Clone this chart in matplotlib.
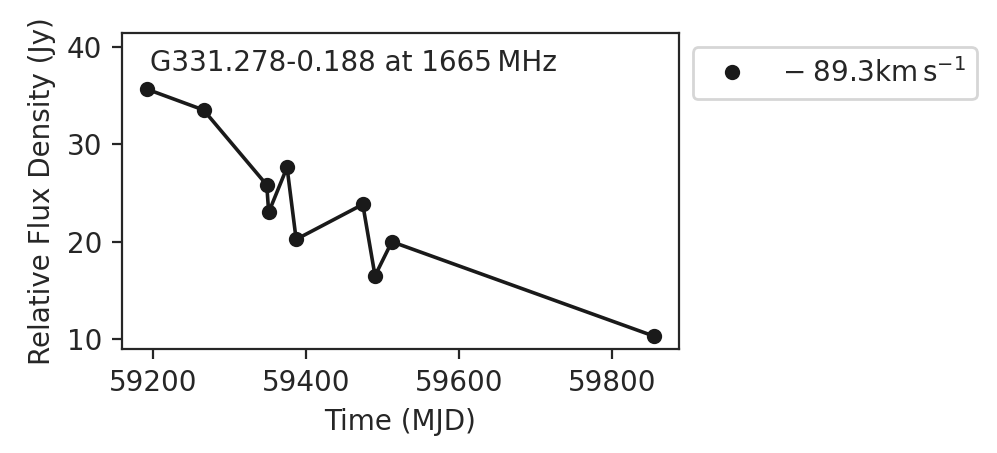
import matplotlib
matplotlib.use("Agg")
import matplotlib.pyplot as plt

mjd = [59192.3, 59265.8, 59348.4, 59350.9, 59374.9, 59386.8, 59473.9, 59489.9, 59511.9, 59854.1]
flux = [35.63, 33.51, 25.82, 23.01, 27.63, 20.24, 23.83, 16.51, 20.0, 10.33]
xticks = [59200, 59400, 59600, 59800]
yticks = [10, 20, 30, 40]
series_label = r"$-\;89.3\mathrm{km\,s^{-1}}$"
title_text = "G331.278-0.188 at 1665\u2009MHz"

dark = "#262626"
plt.rcParams["font.family"] = ["DejaVu Sans"]
plt.rcParams["font.size"] = 10

fig = plt.figure(figsize=(997/200, 453/200), dpi=200)
ax = fig.add_axes([0.1224, 0.2296, 0.681 - 0.1224, 0.927 - 0.2296])
ax.plot(mjd, flux, color="#1a1a1a", linewidth=1.3)
ax.plot(mjd, flux, color="#1a1a1a", marker="o", markersize=4.5, linestyle="none", label=series_label)
ax.set_xticks(xticks)
ax.set_yticks(yticks)
ax.set_ylim(9.0, 41.4)
ax.set_xlabel("Time (MJD)", color=dark)
ax.set_ylabel("Relative Flux Density (Jy)", color=dark)
ax.tick_params(colors=dark, labelcolor=dark, direction="out", length=3.6, width=0.8)
for s in ax.spines.values():
    s.set_color(dark)
    s.set_linewidth(0.8)
ax.text(0.05, 0.95, title_text, transform=ax.transAxes, va="top", ha="left", color=dark, fontsize=10)
leg = ax.legend(loc="upper left", bbox_to_anchor=(1.0, 1.0), borderaxespad=0.5, fontsize=10)
leg.get_frame().set_edgecolor("#cccccc")
for t in leg.get_texts():
    t.set_color(dark)
fig.savefig("out.png", dpi=200)
